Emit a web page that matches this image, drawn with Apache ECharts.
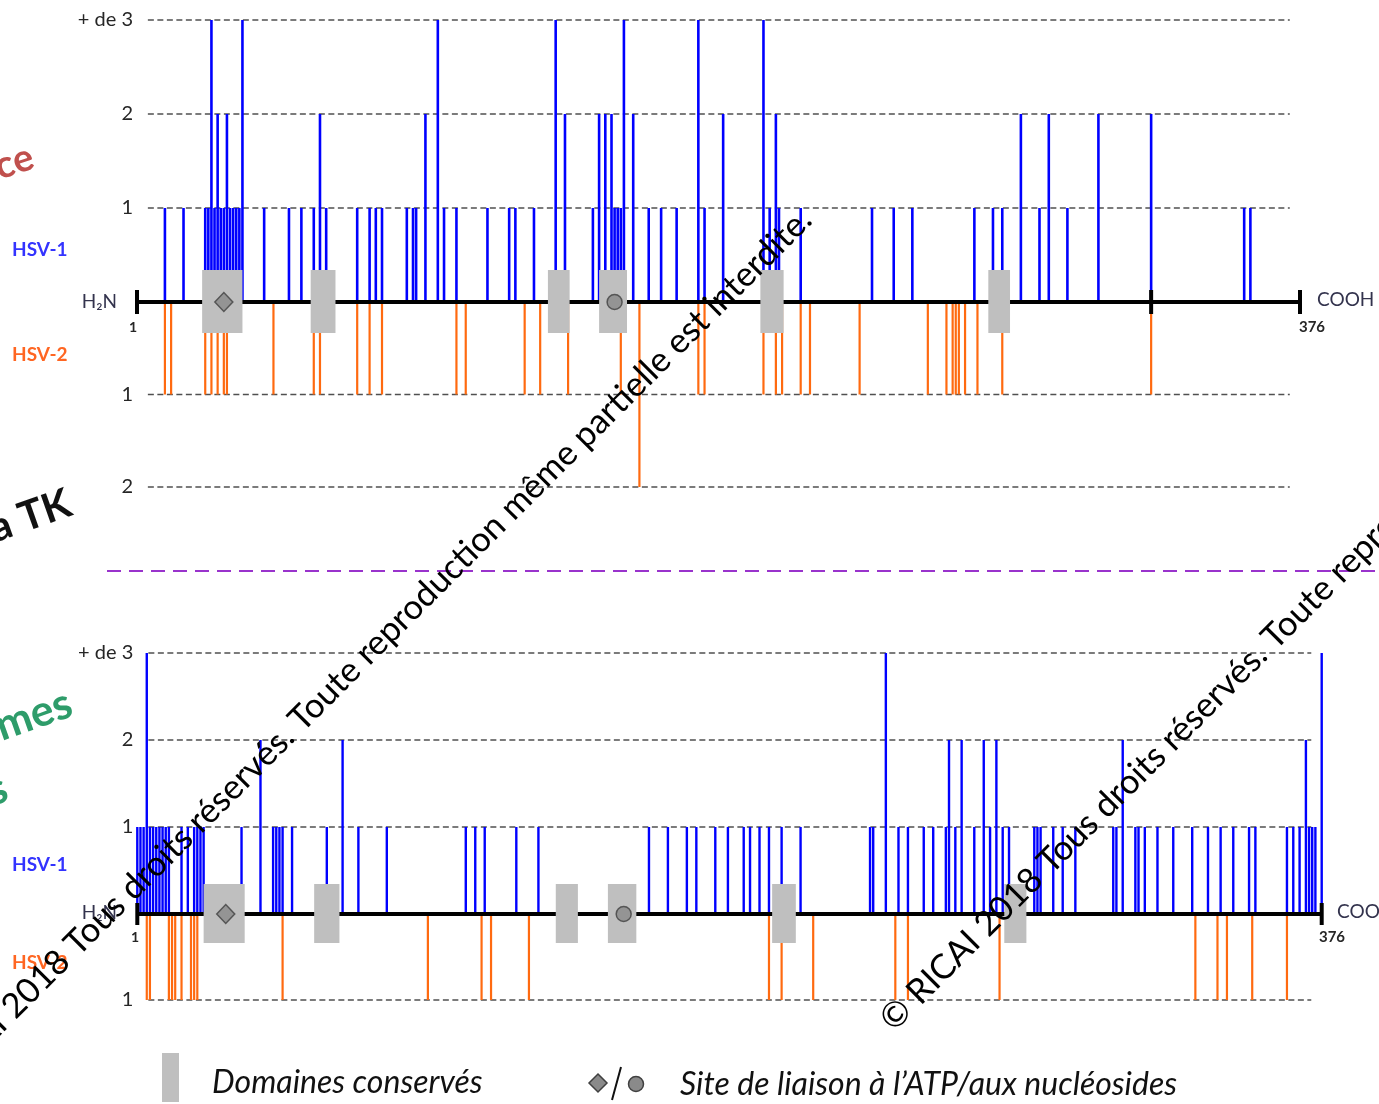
<!DOCTYPE html>
<html><head><meta charset="utf-8">
<script src="https://cdn.jsdelivr.net/npm/echarts@6/dist/echarts.min.js"></script>
<style>html,body{margin:0;padding:0;background:#fff}#c{width:1379px;height:1104px}</style>
</head><body><div id="c"></div>
<script>
// ===================== DATA =====================
const proteinLength = 376;
const countLabels = ['', '1', '2', '+ de 3'];

// Upper panel : HSV-1 (above the axis) / HSV-2 (below)
const resHSV1Pos   = [10,16,23,24,25,26,27,28,29,30,31,32,33,34,35,42,50,54,58,60,62,72,76,78,80,88,90,91,94,98,100,104,114,121,123,129,136,139,148,150,152,154,155,156,157,158,161,166,170,175,182,184,190,203,205,207,208,215,238,245,251,271,277,280,286,292,295,301,311,328,358,360];
const resHSV1Count = [1, 1, 1, 1, 3, 1, 2, 1, 1, 2, 1, 1, 1, 1, 3, 1, 1, 1, 1, 2, 1, 1, 1, 1, 1, 1, 1, 1, 2, 3, 1,  1,  1,  1,  1,  1,  3,  2,  1,  2,  2,  2,  1,  1,  1,  3,  2,  1,  1,  1,  3,  1,  2,  3,  1,  2,  1,  1,  1,  1,  1,  1,  1,  1,  2,  1,  2,  1,  2,  2,  1,  1];
const resHSV2Pos   = [10,12,23,25,27,29,30,45,58,60,72,76,80,104,107,126,131,140,157,163,182,184,203,207,209,215,218,234,256,262,264,265,266,268,272,280,328];
const resHSV2Count = [1, 1, 1, 1, 1, 1, 1, 1, 1, 1, 1, 1, 1, 1,  1,  1,  1,  1,  1,  2,  1,  1,  1,  1,  1,  1,  1,  1,  1,  1,  1,  1,  1,  1,  1,  1,  1];

// Lower panel : HSV-1 (above the axis) / HSV-2 (below)
const polHSV1Pos   = [1,2,3,4,5,6,7,8,9,10,11,15,17,19,20,21,22,34,40,44,45,46,47,50,61,66,71,80,105,108,111,121,128,163,169,175,178,184,188,193,195,198,201,205,211,233,234,238,242,245,250,253,257,258,260,262,266,269,271,273,275,277,285,286,287,291,294,298,310,311,313,317,318,320,324,329,335,340,344,348,353,355,365,367,369,371,372,373,374,376];
const polHSV1Count = [1,1,1,3,1,1,1,1,1, 1, 1, 1, 1, 1, 1, 1, 1, 1, 2, 1, 1, 1, 1, 1, 1, 2, 1, 1,  1,  1,  1,  1,  1,  1,  1,  1,  1,  1,  1,  1,  1,  1,  1,  1,  1,  1,  1,  3,  1,  1,  1,  1,  1,  2,  1,  2,  1,  2,  1,  2,  1,  1,  1,  1,  1,  1,  1,  1,  1,  1,  2,  1,  1,  1,  1,  1,  1,  1,  1,  1,  1,  1,  1,  1,  1,  2,  1,  1,  1,  3];
const polHSV2Pos   = [4,5,11,12,13,15,18,19,20,47,93,110,113,125,201,205,215,241,245,274,336,343,346,354,365];
const polHSV2Count = [1,1, 1, 1, 1, 1, 1, 1, 1, 1, 1,  1,  1,  1,  1,  1,  1,  1,  1,  1,  1,  1,  1,  1,  1];

// Conserved domains (residue ranges) and binding sites
const domainStart = [22, 57, 133.5, 150, 202, 275.5];
const domainEnd   = [35, 65, 140.5, 159, 209.5, 282.5];
const atpSite = 29;
const nucleosideSite = 155;
const upperAxisMarks = [1, 328, 376];
const lowerAxisMarks = [1, 376];
const upperLevels = [1, 2, 3];
const upperLevelsBelow = [1, 2];
const lowerLevels = [1, 2, 3];
const lowerLevelsBelow = [1];
const gridFrom = 4.5, gridTo = 372.7;

// ===================== CHART =====================
const BLUE = '#0000ff', ORANGE = '#ff6a10', BOX = '#bfbfbf';
const pairs = (p, c) => p.map((v, i) => [v, c[i]]);

function barSeries(name, gi, data, color, w) {
  return {
    type: 'custom', name, xAxisIndex: gi, yAxisIndex: gi, z: 2, silent: true,
    data,
    renderItem(params, api) {
      const a = api.coord([api.value(0), 0]);
      const b = api.coord([api.value(0), api.value(1)]);
      return { type: 'line', shape: { x1: a[0], y1: a[1], x2: b[0], y2: b[1] },
               style: { stroke: color, lineWidth: w } };
    }
  };
}
function gridLineSeries(gi, levels) {
  return {
    type: 'custom', xAxisIndex: gi, yAxisIndex: gi, z: 1, silent: true,
    data: levels.map(v => [v]),
    renderItem(params, api) {
      const a = api.coord([gridFrom, api.value(0)]);
      const b = api.coord([gridTo, api.value(0)]);
      return { type: 'line', shape: { x1: a[0], y1: a[1], x2: b[0], y2: b[1] },
               style: { stroke: '#505050', lineWidth: 1.5, lineDash: [6, 3.5] } };
    }
  };
}
function axisSeries(gi) {
  return {
    type: 'custom', xAxisIndex: gi, yAxisIndex: gi, z: 3, silent: true,
    data: [[1, proteinLength]],
    renderItem(params, api) {
      const a = api.coord([api.value(0), 0]);
      const b = api.coord([api.value(1), 0]);
      return { type: 'line', shape: { x1: a[0], y1: a[1], x2: b[0], y2: b[1] },
               style: { stroke: '#000', lineWidth: 4 } };
    }
  };
}
function capSeries(gi, marks, half) {
  return {
    type: 'custom', xAxisIndex: gi, yAxisIndex: gi, z: 3, silent: true,
    data: marks.map(v => [v]),
    renderItem(params, api) {
      const a = api.coord([api.value(0), 0]);
      return { type: 'line', shape: { x1: a[0], y1: a[1] - half, x2: a[0], y2: a[1] + half },
               style: { stroke: '#000', lineWidth: 4 } };
    }
  };
}
function boxSeries(gi, up, down) {
  return {
    type: 'custom', xAxisIndex: gi, yAxisIndex: gi, z: 4, silent: true,
    data: domainStart.map((s, i) => [s, domainEnd[i]]),
    renderItem(params, api) {
      const a = api.coord([api.value(0), 0]);
      const b = api.coord([api.value(1), 0]);
      return { type: 'rect', shape: { x: a[0], y: a[1] - up, width: b[0] - a[0], height: up + down },
               style: { fill: BOX } };
    }
  };
}
function siteSeries(gi) {
  return [
    { type: 'scatter', xAxisIndex: gi, yAxisIndex: gi, z: 5, silent: true,
      symbol: 'diamond', symbolSize: [18, 19], data: [[atpSite, 0]],
      itemStyle: { color: '#8a8a8a', borderColor: '#404040', borderWidth: 1.5 } },
    { type: 'scatter', xAxisIndex: gi, yAxisIndex: gi, z: 5, silent: true,
      symbol: 'circle', symbolSize: 15, data: [[nucleosideSite, 0]],
      itemStyle: { color: '#8a8a8a', borderColor: '#404040', borderWidth: 1.5 } }
  ];
}

const LABEL_FONT = 'Lato';
function yAxis(gi, max, inverse) {
  return {
    type: 'value', gridIndex: gi, min: 0, max, interval: 1, inverse: !!inverse,
    axisLine: { show: false }, axisTick: { show: false }, splitLine: { show: false },
    axisLabel: { margin: 4, fontSize: 20, fontFamily: LABEL_FONT, color: '#262626',
      formatter: v => countLabels[v] }
  };
}

const grids = [
  { left: 137, top: 20, width: 1163, height: 282 },
  { left: 137, top: 302, width: 1163, height: 185 },
  { left: 137.3, top: 653, width: 1184.4, height: 261 },
  { left: 137.3, top: 914, width: 1184.4, height: 86 }
];

function txt(x, y, text, font, fill, align, rot, extra) {
  return Object.assign({ type: 'text', x, y, rotation: rot || 0, z: 50, silent: true,
    style: { text, font, fill, textAlign: align || 'left', textVerticalAlign: 'middle' } }, extra || {});
}
const WM = '34.5px Lato';
const WM_TEXT = '© RICAI 2018 Tous droits réservés. Toute reproduction même partielle est interdite.';

const option = {
  animation: false,
  backgroundColor: '#fff',
  grid: grids,
  xAxis: grids.map((g, i) => ({ type: 'value', gridIndex: i, min: 1, max: proteinLength, show: false })),
  yAxis: [yAxis(0, 3), yAxis(1, 2, true), yAxis(2, 3), yAxis(3, 1, true)],
  series: [
    gridLineSeries(0, upperLevels), gridLineSeries(1, upperLevelsBelow),
    gridLineSeries(2, lowerLevels), gridLineSeries(3, lowerLevelsBelow),
    barSeries('HSV-1 résistance', 0, pairs(resHSV1Pos, resHSV1Count), BLUE, 2.6),
    barSeries('HSV-2 résistance', 1, pairs(resHSV2Pos, resHSV2Count), ORANGE, 2.2),
    barSeries('HSV-1 polymorphisme', 2, pairs(polHSV1Pos, polHSV1Count), BLUE, 2.4),
    barSeries('HSV-2 polymorphisme', 3, pairs(polHSV2Pos, polHSV2Count), ORANGE, 2.2),
    axisSeries(0), axisSeries(2),
    capSeries(0, upperAxisMarks, 12), capSeries(2, lowerAxisMarks, 11),
    boxSeries(0, 32, 31), boxSeries(2, 30, 29),
    ...siteSeries(0), ...siteSeries(2)
  ],
  graphic: [
    // side labels
    txt(12, 250, 'HSV-1', 'bold 19px Lato', '#3333ff'),
    txt(12, 355, 'HSV-2', 'bold 19px Lato', '#ff6622'),
    txt(12, 865, 'HSV-1', 'bold 19px Lato', '#3333ff'),
    txt(12, 963, 'HSV-2', 'bold 19px Lato', '#ff6622'),
    txt(117, 302, 'H₂N', '19px Lato', '#33334d', 'right'),
    txt(117, 913, 'H₂N', '19px Lato', '#33334d', 'right'),
    txt(1317, 300, 'COOH', '19px Lato', '#33334d'),
    txt(1337, 912, 'COOH', '19px Lato', '#33334d'),
    txt(133, 327, '1', 'bold 14px Lato', '#262626', 'center'),
    txt(135, 937, '1', 'bold 14px Lato', '#262626', 'center'),
    txt(1312, 327, '376', 'bold 15px Lato', '#262626', 'center'),
    txt(1332, 937, '376', 'bold 15px Lato', '#262626', 'center'),
    // cut-off titles at left edge
    txt(-4, 168, 'ce', 'bold 38px Lato', '#c0504d', 'left', 0.32),
    txt(-9, 530, 'a TK', 'bold 41px Lato', '#111', 'left', 0.34),
    txt(-3, 728, 'mes', 'bold 43px Lato', '#2e9c6a', 'left', 0.34),
    txt(-12, 793, 's', 'bold 43px Lato', '#2e9c6a', 'left', 0.34),
    // separator
    { type: 'line', z: 40, silent: true, shape: { x1: 107, y1: 571, x2: 1379, y2: 571 },
      style: { stroke: '#9933cc', lineWidth: 2, lineDash: [14, 8] } },
    // legend
    { type: 'rect', z: 40, silent: true, shape: { x: 162, y: 1053, width: 17, height: 49 }, style: { fill: BOX } },
    txt(212, 1083, 'Domaines conservés', 'italic 32px Lato', '#111'),
    { type: 'polygon', z: 40, silent: true, shape: { points: [[598, 1074], [607, 1083], [598, 1092], [589, 1083]] },
      style: { fill: '#8a8a8a', stroke: '#404040', lineWidth: 1.5 } },
    { type: 'line', z: 40, silent: true, shape: { x1: 612, y1: 1100, x2: 621, y2: 1067 }, style: { stroke: '#111', lineWidth: 2 } },
    { type: 'circle', z: 40, silent: true, shape: { cx: 636, cy: 1084, r: 7.5 },
      style: { fill: '#8a8a8a', stroke: '#404040', lineWidth: 1.5 } },
    txt(680, 1085, 'Site de liaison à l’ATP/aux nucléosides', 'italic 32px Lato', '#111'),
    // watermark
    txt(-87, 1107, WM_TEXT, WM, '#000', 'left', Math.PI / 4),
    txt(886, 1025, WM_TEXT, WM, '#000', 'left', Math.PI / 4)
  ]
};
const chart = echarts.init(document.getElementById('c'));
chart.setOption(option);
</script></body></html>
